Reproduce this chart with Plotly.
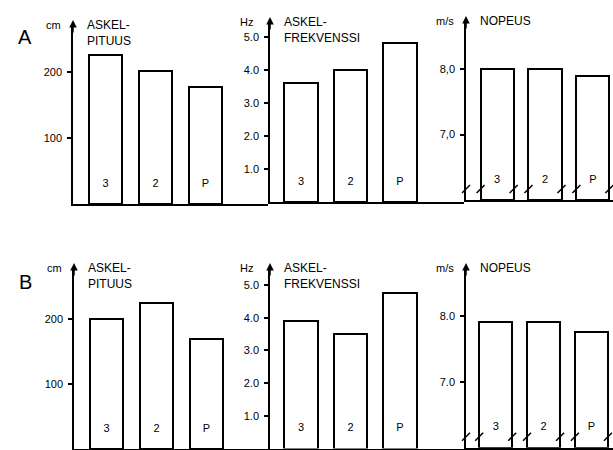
import plotly.graph_objects as go

W, H = 613, 450

categories = ["3", "2", "P"]
a_pituus = [225, 201, 177]
a_freq = [3.6, 4.0, 4.8]
a_nopeus = [8.0, 8.0, 7.9]
b_pituus = [200, 225, 170]
b_freq = [3.9, 3.5, 4.75]
b_nopeus = [7.9, 7.9, 7.75]

pituus_ticks = [100, 200]
pituus_ticktext = ["100", "200"]
freq_ticks = [1, 2, 3, 4, 5]
freq_ticktext = ["1.0", "2.0", "3.0", "4.0", "5.0"]
nopeus_ticks = [7, 8]
a_nopeus_ticktext = ["7,0", "8,0"]
b_nopeus_ticktext = ["7.0", "8.0"]

def px(x):
    return x / W

def py(y):
    return 1 - y / H

panels = [
    dict(values=a_pituus, xd=(73, 268), yd=(204, 24), yr=(0, 272.7), xr=(-0.65, 3.25), bw=0.66,
         tv=pituus_ticks, tt=pituus_ticktext, unit="cm", title="ASKEL-<br>PITUUS", brk=False),
    dict(values=a_freq, xd=(270, 464), yd=(202, 21), yr=(0, 5.48), xr=(-0.63, 3.3), bw=0.68,
         tv=freq_ticks, tt=freq_ticktext, unit="Hz", title="ASKEL-<br>FREKVENSSI", brk=False),
    dict(values=a_nopeus, xd=(466, 613), yd=(200, 20), yr=(6, 8.75), xr=(-0.65, 2.42), bw=0.69,
         tv=nopeus_ticks, tt=a_nopeus_ticktext, unit="m/s", title="NOPEUS", brk=True),
    dict(values=b_pituus, xd=(74, 268), yd=(449, 267), yr=(0, 280), xr=(-0.65, 3.23), bw=0.66,
         tv=pituus_ticks, tt=pituus_ticktext, unit="cm", title="ASKEL-<br>PITUUS", brk=False),
    dict(values=b_freq, xd=(270, 464), yd=(448.5, 267), yr=(0, 5.55), xr=(-0.63, 3.3), bw=0.68,
         tv=freq_ticks, tt=freq_ticktext, unit="Hz", title="ASKEL-<br>FREKVENSSI", brk=False),
    dict(values=b_nopeus, xd=(466, 613), yd=(447.7, 267), yr=(6, 8.74), xr=(-0.62, 2.45), bw=0.69,
         tv=nopeus_ticks, tt=b_nopeus_ticktext, unit="m/s", title="NOPEUS", brk=True),
]

FONT = "Liberation Sans"
BLACK = "#000000"
fig = go.Figure()
layout = {}
annotations = []

for i, p in enumerate(panels):
    n = i + 1
    xa = "x" if n == 1 else f"x{n}"
    ya = "y" if n == 1 else f"y{n}"
    xpos = list(range(len(categories)))
    base = p["yr"][0]
    fig.add_trace(go.Bar(
        x=xpos, y=[v - base for v in p["values"]], base=base, width=p["bw"],
        marker=dict(color="white", line=dict(color=BLACK, width=2)),
        xaxis=xa, yaxis=ya, showlegend=False, hoverinfo="skip",
    ))
    span = p["yr"][1] - p["yr"][0]
    pxh = p["yd"][0] - p["yd"][1]
    label_y = base + 20 * span / pxh
    fig.add_trace(go.Scatter(
        x=xpos, y=[label_y] * len(xpos), mode="text", text=categories,
        textfont=dict(family=FONT, size=11, color=BLACK),
        xaxis=xa, yaxis=ya, showlegend=False, hoverinfo="skip", cliponaxis=False,
    ))
    if p["brk"]:
        bx = [p["xr"][0]]
        for c in xpos:
            bx += [c - p["bw"] / 2, c + p["bw"] / 2]
        by = [base + 11 * span / pxh] * len(bx)
        fig.add_trace(go.Scatter(
            x=bx, y=by, mode="markers",
            marker=dict(symbol="line-ne", size=8, line=dict(color=BLACK, width=1.5)),
            xaxis=xa, yaxis=ya, showlegend=False, hoverinfo="skip", cliponaxis=False,
        ))
    xk = "xaxis" if n == 1 else f"xaxis{n}"
    yk = "yaxis" if n == 1 else f"yaxis{n}"
    layout[xk] = dict(domain=[px(p["xd"][0]), px(p["xd"][1])], range=list(p["xr"]),
                      anchor=ya, showline=True, linecolor=BLACK, linewidth=1.5,
                      showticklabels=False, ticks="", showgrid=False, zeroline=False,
                      fixedrange=True)
    layout[yk] = dict(domain=[py(p["yd"][0]), py(p["yd"][1])], range=list(p["yr"]),
                      anchor=xa, showline=True, linecolor=BLACK, linewidth=1.5,
                      tickvals=p["tv"], ticktext=p["tt"], ticks="outside", ticklen=4,
                      tickwidth=1.5, tickcolor=BLACK, showgrid=False, zeroline=False,
                      ticklabelstandoff=3,
                      tickfont=dict(family=FONT, size=11, color=BLACK), fixedrange=True)
    annotations.append(dict(x=px(p["xd"][0]), y=py(p["yd"][1]) + 4 / H, xref="paper", yref="paper",
                            ax=0, ay=14, text="", showarrow=True, arrowhead=2, arrowsize=1,
                            arrowwidth=1.5, arrowcolor=BLACK))
    gap = 15 if p["unit"] == "Hz" else 10
    annotations.append(dict(x=px(p["xd"][0] - gap), y=py(p["yd"][1] + 1), xref="paper", yref="paper",
                            text=p["unit"], showarrow=False, xanchor="right", yanchor="middle",
                            font=dict(family=FONT, size=11, color=BLACK)))
    annotations.append(dict(x=px(p["xd"][0] + 12), y=py(p["yd"][1] - 8), xref="paper", yref="paper",
                            text=p["title"], showarrow=False, xanchor="left", yanchor="top",
                            align="left", font=dict(family=FONT, size=12, color=BLACK)))

for letter, ly in (("A", 37), ("B", 282)):
    annotations.append(dict(x=px(25), y=py(ly), xref="paper", yref="paper", text=letter,
                            showarrow=False, xanchor="center", yanchor="middle",
                            font=dict(family=FONT, size=20, color=BLACK)))

fig.update_layout(
    template="none",
    width=W, height=H, margin=dict(l=0, r=0, t=0, b=0, pad=0),
    paper_bgcolor="white", plot_bgcolor="white",
    font=dict(family=FONT, color=BLACK),
    annotations=annotations, bargap=0, **layout,
)

fig.write_html("out.html", config={"displayModeBar": False},
               post_script="document.body.style.margin='0';document.body.style.padding='0';")
